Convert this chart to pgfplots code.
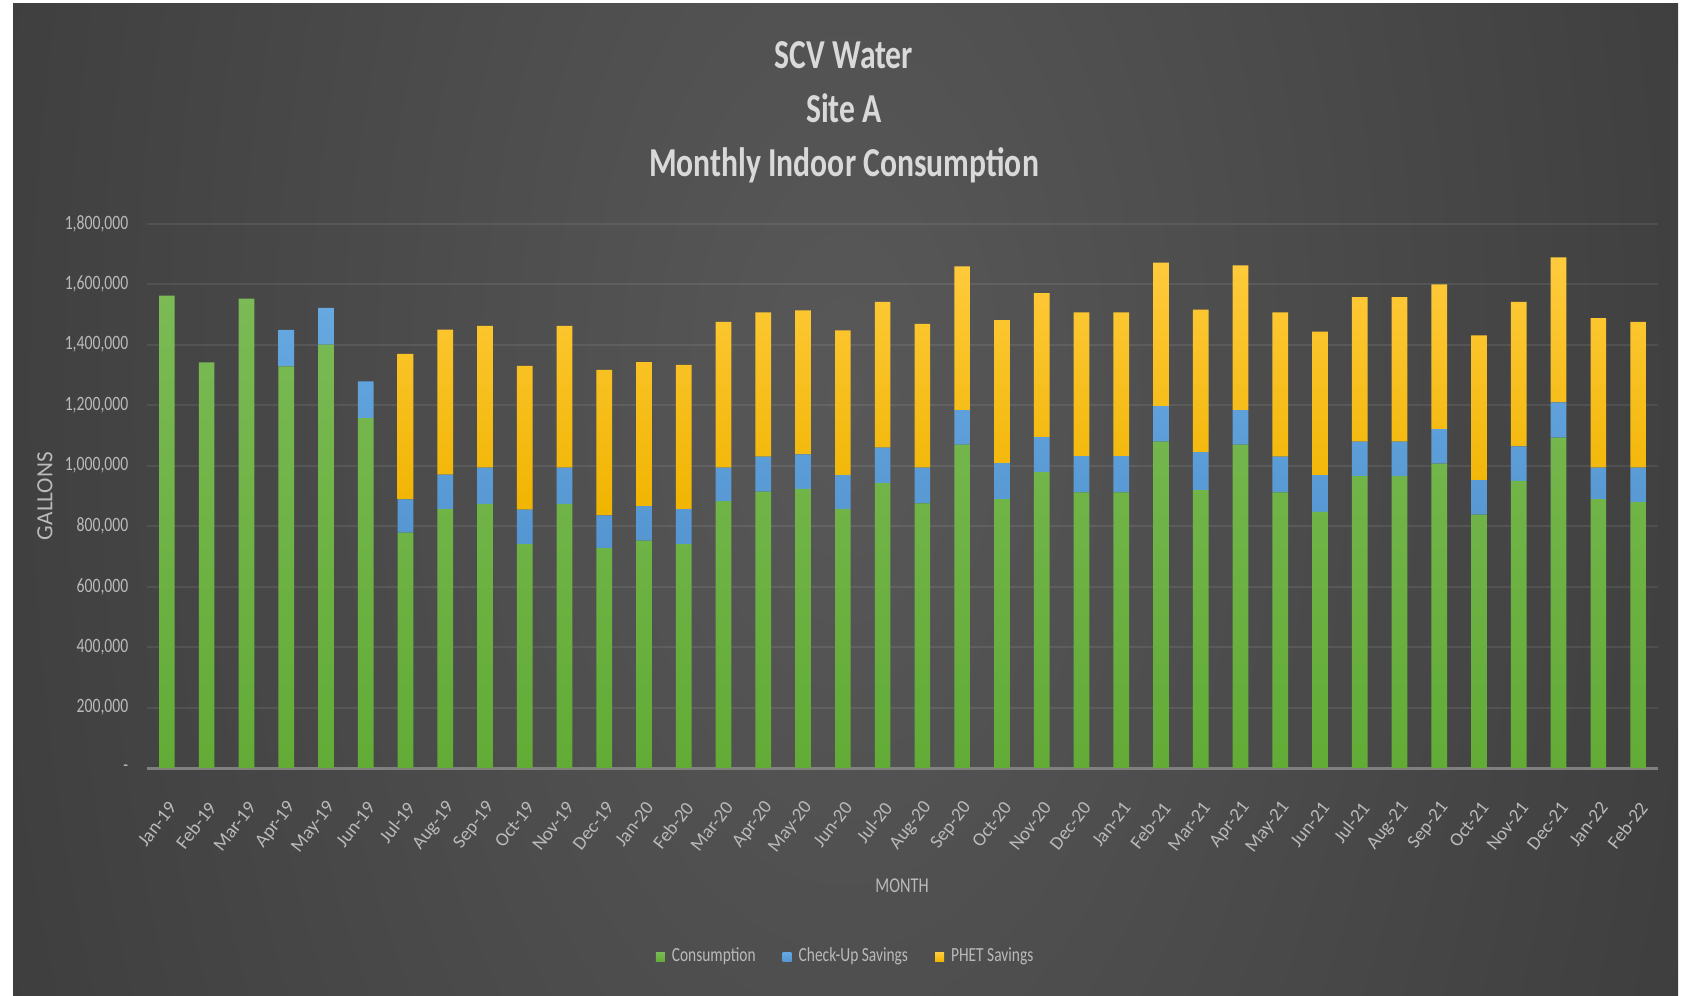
\documentclass[border=0pt]{standalone}
\usepackage{fontspec}
\setmainfont{Carlito}[FakeStretch=0.77]
\newfontfamily\plainfont{Carlito}
\usepackage{pgfplots}
\pgfplotsset{compat=1.18}
\usepackage{pgfplotstable}

\definecolor{bgin}{HTML}{585858}
\definecolor{bgout}{HTML}{272727}
\definecolor{consTop}{HTML}{7BBA55}
\definecolor{consBot}{HTML}{62AC36}
\definecolor{chkTop}{HTML}{66A8E0}
\definecolor{chkBot}{HTML}{5596D2}
\definecolor{phetTop}{HTML}{FFCB3D}
\definecolor{phetBot}{HTML}{F0B400}
\definecolor{txt}{HTML}{BABABA}
\definecolor{ttl}{HTML}{D9D9D9}
\definecolor{axln}{HTML}{808080}

% gallons per month
\pgfplotstableread{
idx cons check phet
0 1562000 0 0
1 1341000 0 0
2 1552000 0 0
3 1328000 120000 0
4 1400000 121000 0
5 1157000 121000 0
6 778000 110000 481000
7 856000 114000 479000
8 873000 120000 469000
9 740000 114000 475000
10 873000 120000 469000
11 727000 108000 481000
12 752000 114000 476000
13 740000 116000 477000
14 882000 111000 482000
15 914000 115000 477000
16 923000 114000 476000
17 856000 112000 479000
18 942000 117000 482000
19 875000 118000 475000
20 1069000 114000 475000
21 889000 119000 473000
22 978000 116000 476000
23 911000 120000 475000
24 911000 120000 475000
25 1079000 117000 475000
26 919000 125000 471000
27 1069000 114000 479000
28 911000 118000 477000
29 847000 121000 475000
30 965000 114000 478000
31 965000 114000 478000
32 1006000 114000 479000
33 838000 114000 478000
34 949000 114000 478000
35 1092000 117000 479000
36 889000 104000 494000
37 879000 114000 482000
}\sitedata

\begin{document}
\begin{tikzpicture}
% page + dark chart area with radial glow
\fill[white] (0,0) rectangle (168.8mm,99.5mm);
\fill[bgout] (1.3mm,0) rectangle (167.8mm,99.1mm);
\begin{scope}
  \clip (1.3mm,0) rectangle (167.8mm,99.1mm);
  \shade[inner color=bgin, outer color=bgout] (84.5mm,60mm) ellipse (170mm and 320mm);
\end{scope}

\begin{axis}[
    at={(14.7mm,22.7mm)}, anchor=south west,
    scale only axis, width=151.1mm, height=54.45mm,
    ybar stacked, bar width=1.57mm,
    xmin=-0.5, xmax=37.5, ymin=0, ymax=1800000,
    axis line style={draw=none},
    major tick length=0pt,
    xtick={0,...,37},
    xticklabels={Jan-19,Feb-19,Mar-19,Apr-19,May-19,Jun-19,Jul-19,Aug-19,Sep-19,Oct-19,Nov-19,Dec-19,
                 Jan-20,Feb-20,Mar-20,Apr-20,May-20,Jun-20,Jul-20,Aug-20,Sep-20,Oct-20,Nov-20,Dec-20,
                 Jan-21,Feb-21,Mar-21,Apr-21,May-21,Jun-21,Jul-21,Aug-21,Sep-21,Oct-21,Nov-21,Dec-21,
                 Jan-22,Feb-22},
    ytick={200000,400000,600000,800000,1000000,1200000,1400000,1600000,1800000},
    yticklabels={{200,000},{400,000},{600,000},{800,000},{1,000,000},{1,200,000},{1,400,000},{1,600,000},{1,800,000}},
    scaled y ticks=false,
    extra y ticks={0},
    extra y tick labels={-\hspace{0.8mm}},
    extra y tick style={grid=major, major grid style={draw=axln, line width=0.3mm, opacity=1}},
    ymajorgrids,
    major grid style={draw=white, opacity=0.08, line width=0.2mm},
    yticklabel style={font=\fontsize{5.8}{7}\selectfont, text=txt, anchor=east, inner sep=0pt, xshift=-1.8mm},
    xticklabel style={font=\plainfont\fontsize{5.4}{6.5}\selectfont, text=txt, xshift=0.6mm, yshift=-3.6mm, rotate=52, anchor=east, inner sep=0pt},
    xlabel={MONTH},
    xlabel style={at={(axis description cs:0.4997,-0.2167)}, anchor=center, font=\fontsize{6}{7}\selectfont, text=txt},
    ylabel={GALLONS},
    ylabel style={at={(axis description cs:-0.0675,0.4995)}, anchor=center, font=\plainfont\fontsize{6.6}{8}\selectfont, text=txt},
    legend columns=3,
    legend style={at={(0.464,-0.347)}, anchor=center, draw=none, fill=none, text=txt,
                  font=\fontsize{5.7}{7}\selectfont,
                  /tikz/every even column/.append style={column sep=2mm}},
    legend image code/.code={\fill[#1] (0mm,-0.45mm) rectangle (0.9mm,0.45mm);},
]
\addplot[draw=none, top color=consTop, bottom color=consBot] table[x=idx,y=cons]{\sitedata};
\addlegendentry{Consumption}
\addplot[draw=none, top color=chkTop, bottom color=chkBot] table[x=idx,y=check]{\sitedata};
\addlegendentry{Check-Up Savings}
\addplot[draw=none, top color=phetTop, bottom color=phetBot] table[x=idx,y=phet]{\sitedata};
\addlegendentry{PHET Savings}
\end{axis}

\node[anchor=base, text=ttl, font=\bfseries\fontsize{11.7}{14}\selectfont] at (84.4mm,92.6mm) {SCV Water};
\node[anchor=base, text=ttl, font=\bfseries\fontsize{11.7}{14}\selectfont] at (84.4mm,87.2mm) {Site A};
\node[anchor=base, text=ttl, font=\bfseries\fontsize{11.7}{14}\selectfont] at (84.4mm,81.8mm) {Monthly Indoor Consumption};

\pgfresetboundingbox
\path (0,0) rectangle (168.8mm,99.5mm);
\end{tikzpicture}
\end{document}
